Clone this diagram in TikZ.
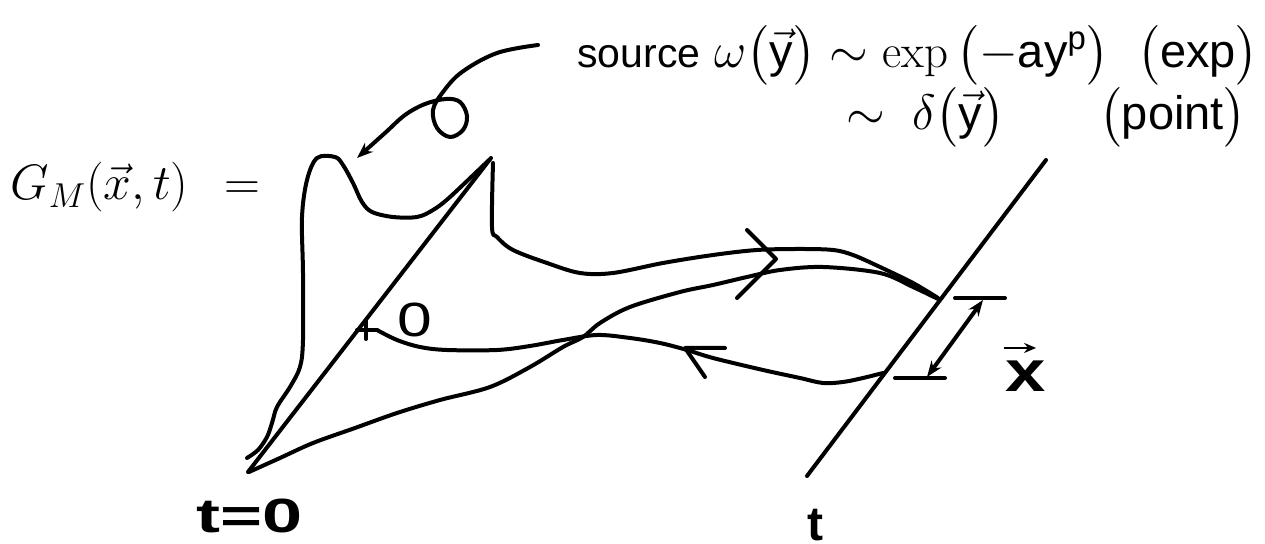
\documentclass[tikz,border=0pt]{standalone}
\usepackage{fontspec}
\setsansfont{Liberation Sans}
\usepackage{amsmath,graphicx}
\usetikzlibrary{arrows.meta}

\tikzset{
  pen/.style={line width=2pt,line cap=round,line join=round},
  label/.style={anchor=base west,inner sep=0pt},
  tip/.style={-{Stealth[length=8pt,width=6pt]}},
}

\begin{document}
\begin{tikzpicture}[x=0.5pt,y=-0.5pt]
  \useasboundingbox (0,0) rectangle (1265,544);

  % the two time slices
  \coordinate (a0) at (248,472);
  \coordinate (a1) at (491,158);
  \coordinate (b0) at (807,476);
  \coordinate (b1) at (1046,160);
  \draw[pen] (a0) -- (a1);
  \draw[pen] (b0) -- (b1);

  % texts
  \node[label] (gm) at (10,200) {\fontsize{27}{32}\selectfont$G_M(\vec{x},t)\;\,=$};
  \node[label] (src) at (577,68) {\fontsize{23.5}{28}\selectfont\textsf{\fontsize{20.5}{24}\selectfont source} $\omega\bigl(\vec{\textsf{y}}\bigr)\sim\exp\,\bigl(-\textsf{ay}^{\textsf{p}}\bigr)\;\;\bigl(\textsf{exp}\bigr)$};
  \node[anchor=base east,inner sep=0pt] (pnt) at (1247,130) {\fontsize{23.5}{28}\selectfont$\sim\;\delta\bigl(\vec{\textsf{y}}\bigr)\qquad\bigl(\textsf{point}\bigr)$};
  \node[label] (orig) at (397,337) {\fontsize{24}{28}\selectfont\sffamily\scalebox{1.3}[1]{0}};
  \node[label] (tzero) at (196,533) {\fontsize{24}{28}\selectfont\sffamily\bfseries\scalebox{1.5}[1]{t=0}};
  \node[label] (tlab) at (807,541) {\fontsize{24}{28}\selectfont\sffamily\bfseries t};
  \node[label] (xvec) at (1005,392) {\fontsize{29}{33}\selectfont\sffamily\bfseries\scalebox{1.25}[1]{x}};
  \draw[line width=1.3pt,-{Stealth[length=6pt,width=5pt]}]
    ([shift={(-1,-13)}]xvec.north west) -- ([shift={(-10,-13)}]xvec.north east);

  % source profile at t=0
  \draw[pen] plot[smooth,tension=0.55] coordinates {
    (247,458) (258,450) (267,437) (272,423) (277,407) (290,387) (300,367)
    (303,340) (303,273) (302,217) (307,180) (317,158) (335,157) (343,165)
    (353,183) (362,202) (372,212) (393,217) (417,217) (433,210) (450,197) (489,160)};

  % outgoing paths
  \draw[pen] plot[smooth,tension=0.55] coordinates {
    (493,163) (492,227) (497,237) (513,250) (547,263) (580,273) (613,273)
    (663,263) (713,255) (757,250) (800,249) (833,250) (853,255) (880,267)
    (913,283) (938,298)};
  \draw[pen] plot[smooth,tension=0.55] coordinates {
    (938,299) (913,287) (880,273) (823,267) (780,270) (747,277) (713,285)
    (680,292) (630,307) (600,323) (583,337) (563,347) (530,367) (490,387)
    (440,400) (397,413) (355,428) (313,443) (280,458) (249,472)};
  \draw[pen] plot[smooth,tension=0.55] coordinates {
    (377,330) (397,340) (420,347) (447,350) (497,350) (530,346) (563,340)
    (597,335) (630,338) (660,343) (687,350) (713,358) (763,370) (800,378)
    (823,383) (843,382) (863,378) (883,373)};

  % origin mark and direction chevrons
  \draw[pen] (357,330) -- (377,330) (366,321) -- (366,339);
  \draw[pen] (747,230) -- (776,259) -- (737,298);
  \draw[pen] (725,348) -- (685,348) -- (705,377);

  % separation bars
  \draw[pen] (955,298) -- (1005,298);
  \draw[pen] (895,378) -- (945,378);
  \draw[pen,{Stealth[length=8pt,width=6pt]}-{Stealth[length=8pt,width=6pt]}] (983,300) -- (927,377);

  % pointer from the source text to the profile
  \coordinate (peak) at (357,158);
  \draw[pen,tip] plot[smooth,tension=0.6] coordinates {
    (538,45) (497,53) (462,72) (443,92) (433,110) (437,128) (450,137)
    (463,130) (467,116) (460,102) (446,99) (425,104) (405,115) (385,133) (peak)};
\end{tikzpicture}
\end{document}
